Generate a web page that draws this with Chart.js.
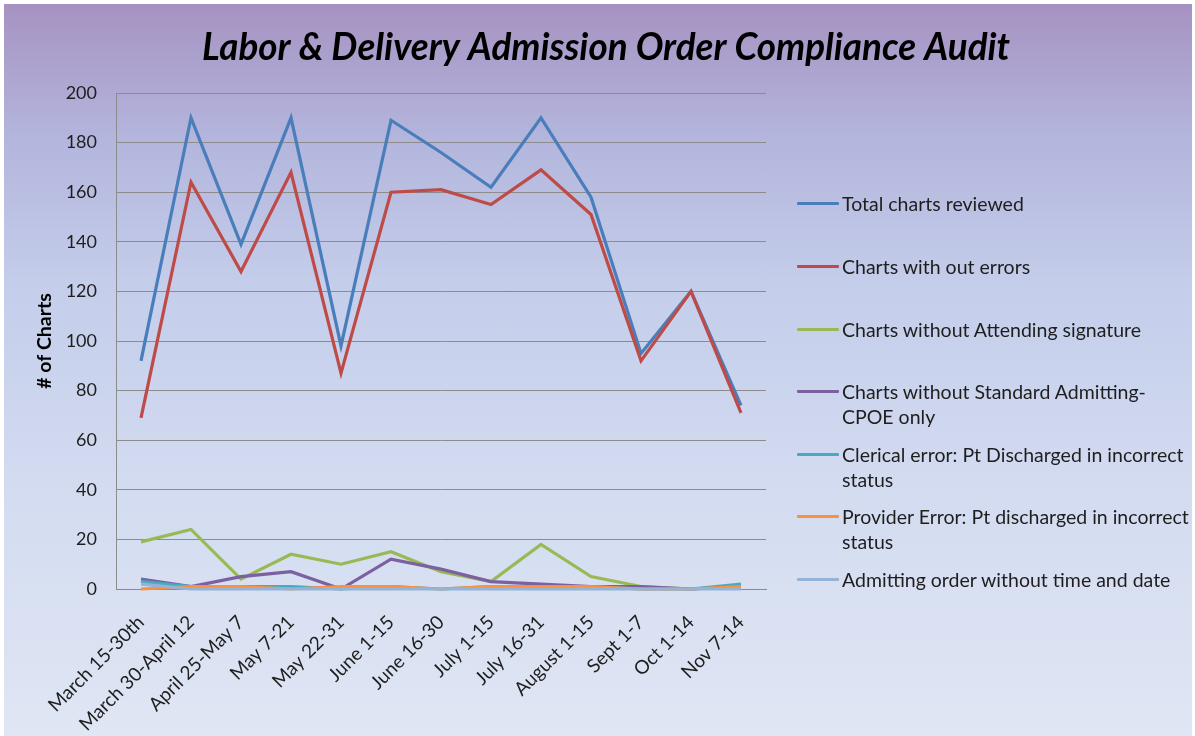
<!DOCTYPE html>
<html>
<head>
<meta charset="utf-8">
<script src="https://cdn.jsdelivr.net/npm/chart.js@4.4.1/dist/chart.umd.min.js"></script>
<style>
  html, body { margin: 0; padding: 0; background: #ffffff; }
  #wrap {
    position: absolute; left: 4px; top: 4px; width: 1188px; height: 732px;
    background: linear-gradient(to bottom, #a692c2 0%, #b3b5dc 18%, #c4cdea 38%, #d2dbf0 65%, #dfe6f4 100%);
  }
  #box { position: absolute; left: 0; top: 0; width: 1195px; height: 736px; }
  #legend {
    position: absolute; left: 797px; top: 0; width: 398px;
    font-family: Lato, 'Open Sans', sans-serif; font-size: 19.5px; color: #1e1e1e;
  }
  .item { position: absolute; left: 0; display: flex; align-items: flex-start; }
  .swatch { width: 42px; height: 3px; margin-top: 11px; border-radius: 1px; }
  .txt { margin-left: 3px; line-height: 25px; white-space: pre; }
</style>
</head>
<body>
<div id="wrap"></div>
<div id="box"><canvas id="chart" width="1195" height="736"></canvas></div>
<div id="legend"></div>
<script>
// ==========================
// Données du graphique
// ==========================
const periods = ['March 15-30th', 'March 30-April 12', 'April 25-May 7', 'May 7-21', 'May 22-31',
  'June 1-15', 'June 16-30', 'July 1-15', 'July 16-31', 'August 1-15', 'Sept 1-7', 'Oct 1-14', 'Nov 7-14'];

const totalReviewed   = [92, 190, 139, 190, 98, 189, 176, 162, 190, 158, 95, 120, 74];
const withoutErrors   = [69, 164, 128, 168, 87, 160, 161, 155, 169, 151, 92, 120, 71];
const noAttending     = [19, 24, 4, 14, 10, 15, 7, 3, 18, 5, 1, 0, 1];
const noStandardCpoe  = [4, 1, 5, 7, 0, 12, 8, 3, 2, 1, 1, 0, 1];
const clericalError   = [3, 1, 1, 1, 0, 1, 0, 1, 1, 1, 0, 0, 2];
const providerError   = [0, 1, 1, 0, 1, 1, 0, 1, 1, 1, 0, 0, 1];
const noTimeDate      = [2, 0, 0, 0, 0, 0, 0, 0, 0, 0, 0, 0, 0];

const seriesNames = [
  'Total charts reviewed',
  'Charts with out errors',
  'Charts without Attending signature',
  'Charts without Standard Admitting-\nCPOE only',
  'Clerical error: Pt Discharged in incorrect\nstatus',
  'Provider Error: Pt discharged in incorrect\nstatus',
  'Admitting order without time and date'
];
const seriesData = [totalReviewed, withoutErrors, noAttending, noStandardCpoe, clericalError, providerError, noTimeDate];
const seriesColors = ['#4a7ebb', '#be4b48', '#98b954', '#7d60a0', '#46aac5', '#f69240', '#95b3d7'];

const yTicks = [0, 20, 40, 60, 80, 100, 120, 140, 160, 180, 200];

const chartTitle = 'Labor & Delivery Admission Order Compliance Audit';

// Position verticale des entrées de légende
const legendTops = [191, 254, 317, 379, 442, 504, 567];

const FONT = "Lato, 'Open Sans', sans-serif";

// ==========================
// Titre centré sur toute l'image (plugin maison)
// ==========================
const titlePlugin = {
  id: 'bigTitle',
  afterDraw(chart) {
    const ctx = chart.ctx;
    ctx.save();
    ctx.font = `italic bold 38px ${FONT}`;
    ctx.fillStyle = '#000';
    ctx.textAlign = 'center';
    ctx.textBaseline = 'middle';
    const w = ctx.measureText(chartTitle).width;
    const target = 808;
    ctx.translate(606, 48);
    ctx.scale(target / w, 1);
    ctx.fillText(chartTitle, 0, 0);
    ctx.restore();
  }
};

// ==========================
// Création du graphique
// ==========================
const datasets = seriesNames.map((name, i) => ({
  label: name.replace('\n', ' '),
  data: seriesData[i],
  borderColor: seriesColors[i],
  backgroundColor: seriesColors[i],
  borderWidth: 3.2,
  pointRadius: 0,
  tension: 0,
  fill: false,
  clip: 6,
  order: -i
}));

new Chart(document.getElementById('chart'), {
  type: 'line',
  data: { labels: periods, datasets },
  plugins: [titlePlugin],
  options: {
    responsive: false,
    animation: false,
    layout: { padding: { left: 30, right: 429, top: 93, bottom: 0 } },
    plugins: {
      legend: { display: false },
      tooltip: { enabled: false },
      title: { display: false }
    },
    scales: {
      x: {
        offset: true,
        grid: { display: false, drawTicks: false },
        border: { display: true, color: '#8c8c8c', width: 1 },
        ticks: {
          color: '#1e1e1e', font: { family: FONT, size: 19 },
          minRotation: 45, maxRotation: 45, padding: 22, autoSkip: false
        },
        afterFit: s => { s.height = 147; }
      },
      y: {
        min: 0, max: 200,
        afterBuildTicks: s => { s.ticks = yTicks.map(v => ({ value: v })); },
        grid: { color: '#8c8c8c', lineWidth: 1, drawTicks: false },
        border: { display: true, color: '#8c8c8c', width: 1 },
        ticks: { color: '#1e1e1e', font: { family: FONT, size: 18 }, padding: 19 },
        title: {
          display: true, text: '# of Charts', color: '#000',
          font: { family: FONT, size: 19.5, weight: 'bold' }, padding: { top: 3, bottom: 0 }
        },
        afterFit: s => { s.width = 86; }
      }
    }
  }
});

// ==========================
// Légende HTML (textes sur plusieurs lignes)
// ==========================
const legendEl = document.getElementById('legend');
seriesNames.forEach((name, i) => {
  const item = document.createElement('div');
  item.className = 'item';
  item.style.top = legendTops[i] + 'px';
  const sw = document.createElement('div');
  sw.className = 'swatch';
  sw.style.background = seriesColors[i];
  const tx = document.createElement('div');
  tx.className = 'txt';
  tx.textContent = name;
  item.appendChild(sw);
  item.appendChild(tx);
  legendEl.appendChild(item);
});
</script>
</body>
</html>
